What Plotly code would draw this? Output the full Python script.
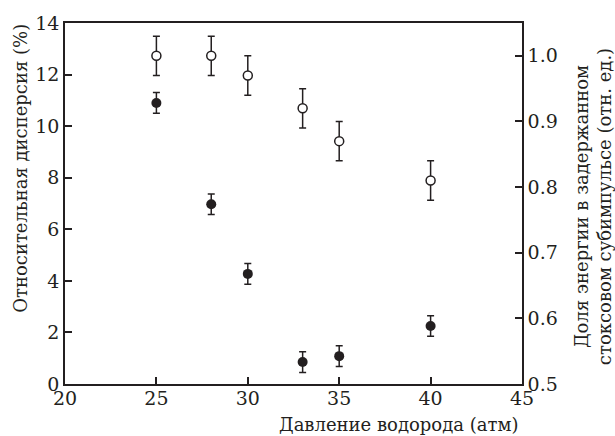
import plotly.graph_objects as go

# Data
pressure = [25, 28, 30, 33, 35, 40]
dispersion = [10.9, 6.97, 4.27, 0.85, 1.08, 2.25]          # left axis, filled circles
dispersion_err = [0.4, 0.4, 0.4, 0.4, 0.4, 0.4]
energy_frac = [1.0, 1.0, 0.97, 0.92, 0.87, 0.81]           # right axis, open circles
energy_err = [0.03, 0.03, 0.03, 0.03, 0.03, 0.03]

x_ticks = [20, 25, 30, 35, 40, 45]
y_ticks = [0, 2, 4, 6, 8, 10, 12, 14]
y2_ticks = [0.5, 0.6, 0.7, 0.8, 0.9, 1.0]
y2_labels = ["0.5", "0.6", "0.7", "0.8", "0.9", "1.0"]

INK = "#231f20"
FONT = "DejaVu Serif"
FS = 18
TFS = 19

fig = go.Figure()
fig.add_trace(go.Scatter(
    x=pressure, y=energy_frac, mode="markers", yaxis="y2",
    marker=dict(symbol="circle", size=9, color="white", line=dict(color=INK, width=1.5)),
    error_y=dict(type="data", array=energy_err, visible=True, color=INK, thickness=1.5, width=3.5),
    showlegend=False,
))
fig.add_trace(go.Scatter(
    x=pressure, y=dispersion, mode="markers",
    marker=dict(symbol="circle", size=10, color=INK, line=dict(width=0)),
    error_y=dict(type="data", array=dispersion_err, visible=True, color=INK, thickness=1.5, width=3.5),
    showlegend=False,
))

axis_common = dict(
    showgrid=False, zeroline=False, showline=True, linecolor=INK, linewidth=1.5,
    ticks="inside", ticklen=7, tickwidth=1.5, tickcolor=INK,
    tickfont=dict(family=FONT, size=TFS, color=INK),
)

fig.update_layout(
    width=615, height=436,
    margin=dict(l=65, r=93, t=17, b=52),
    paper_bgcolor="white", plot_bgcolor="white",
    font=dict(family=FONT, color=INK),
    xaxis=dict(range=[20, 45], tickvals=x_ticks, mirror=True, ticklabelstandoff=-4, **axis_common),
    yaxis=dict(range=[0, 14], tickvals=y_ticks, **axis_common),
    yaxis2=dict(range=[0.5, 1.05], tickvals=y2_ticks, ticktext=y2_labels,
                overlaying="y", side="right", **axis_common),
    annotations=[
        dict(text="Относительная дисперсия (%)", xref="paper", yref="paper",
             x=-0.0963, y=0.599, xanchor="center", yanchor="middle", textangle=-90,
             showarrow=False, font=dict(family=FONT, size=FS, color=INK)),
        dict(text="Давление водорода (атм)", xref="paper", yref="paper",
             x=0.7287, y=-0.111, xanchor="center", yanchor="middle",
             showarrow=False, font=dict(family=FONT, size=FS, color=INK)),
        dict(text="Доля энергии в задержанном<br>стоксовом субимпульсе (отн. ед.)",
             xref="paper", yref="paper", x=1.1554, y=0.49, xanchor="center", yanchor="middle",
             textangle=-90, showarrow=False, font=dict(family=FONT, size=FS, color=INK)),
    ],
)

fig.write_html("out.html")
